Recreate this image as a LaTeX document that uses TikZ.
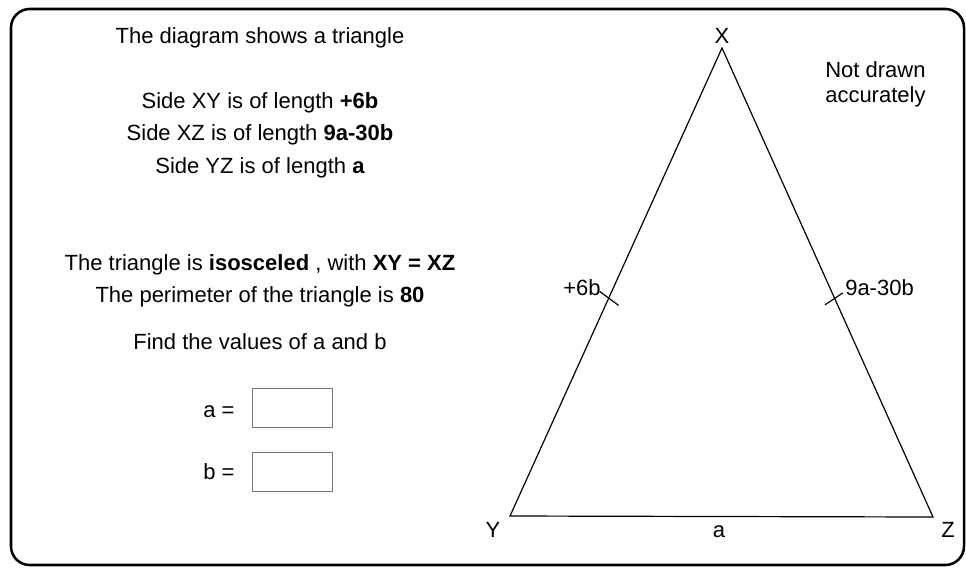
\documentclass[tikz,border=0pt]{standalone}
\usepackage{fontspec}
\setmainfont{Liberation Sans}
\usetikzlibrary{calc}
\begin{document}
\begin{tikzpicture}[x=0.75pt,y=-0.75pt,
  txt/.style={anchor=base,inner sep=0pt,font=\fontsize{16.5pt}{20pt}\selectfont},
  frame/.style={draw=black,line width=1.9pt,rounded corners=14pt},
  ansbox/.style={draw=black!55,line width=0.6pt},
  edge/.style={draw=black,line width=0.9pt},
  tick/.style={draw=black,line width=0.9pt}]
\useasboundingbox (0,0) rectangle (966,568);
\draw[frame] (11,9) rectangle (964,565);
% left text
\node[txt] (t1) at (260,43) {The diagram shows a triangle};
\node[txt] (t2) at (260,108) {Side XY is of length \textbf{+6b}};
\node[txt] (t3) at (260,140) {Side XZ is of length \textbf{9a-30b}};
\node[txt] (t4) at (260,173) {Side YZ is of length \textbf{a}};
\node[txt] (t5) at (260,270) {The triangle is \textbf{isosceled} , with \textbf{XY = XZ}};
\node[txt] (t6) at (260,302) {The perimeter of the triangle is \textbf{80}};
\node[txt] (t7) at (260,349) {Find the values of a and b};
\node[txt] (la) at (219,417) {a =};
\node[txt] (lb) at (219,479) {b =};
\draw[ansbox] (252,388) rectangle (332,427);
\draw[ansbox] (252,452) rectangle (332,491);
% triangle
\coordinate (X) at (722,48);
\coordinate (Y) at (510,516);
\coordinate (Z) at (933,517);
\draw[edge,line join=miter] (X) -- (Y) -- (Z) -- cycle;
\node[txt] (lX) at (722,43) {X};
\node[txt] (lY) at (493,537) {Y};
\node[txt] (lZ) at (948,537) {Z};
\node[txt] (lYZ) at (719,537) {a};
\coordinate (k1) at ($(X)!0.535!(Y)$);
\coordinate (k2) at ($(X)!0.535!(Z)$);
\draw[tick] ($(k1)+(-9,-7)$) -- ($(k1)+(10,7)$);
\draw[tick] ($(k2)+(-10,6)$) -- ($(k2)+(8,-6)$);
\node[txt,anchor=base west] (l6b) at (563,295) {+6b};
\node[txt,anchor=base west] (l9a) at (845,295) {9a-30b};
\node[txt,anchor=base west] (nd1) at (825,77) {Not drawn};
\node[txt,anchor=base west] (nd2) at (825,102) {accurately};
\end{tikzpicture}
\end{document}
